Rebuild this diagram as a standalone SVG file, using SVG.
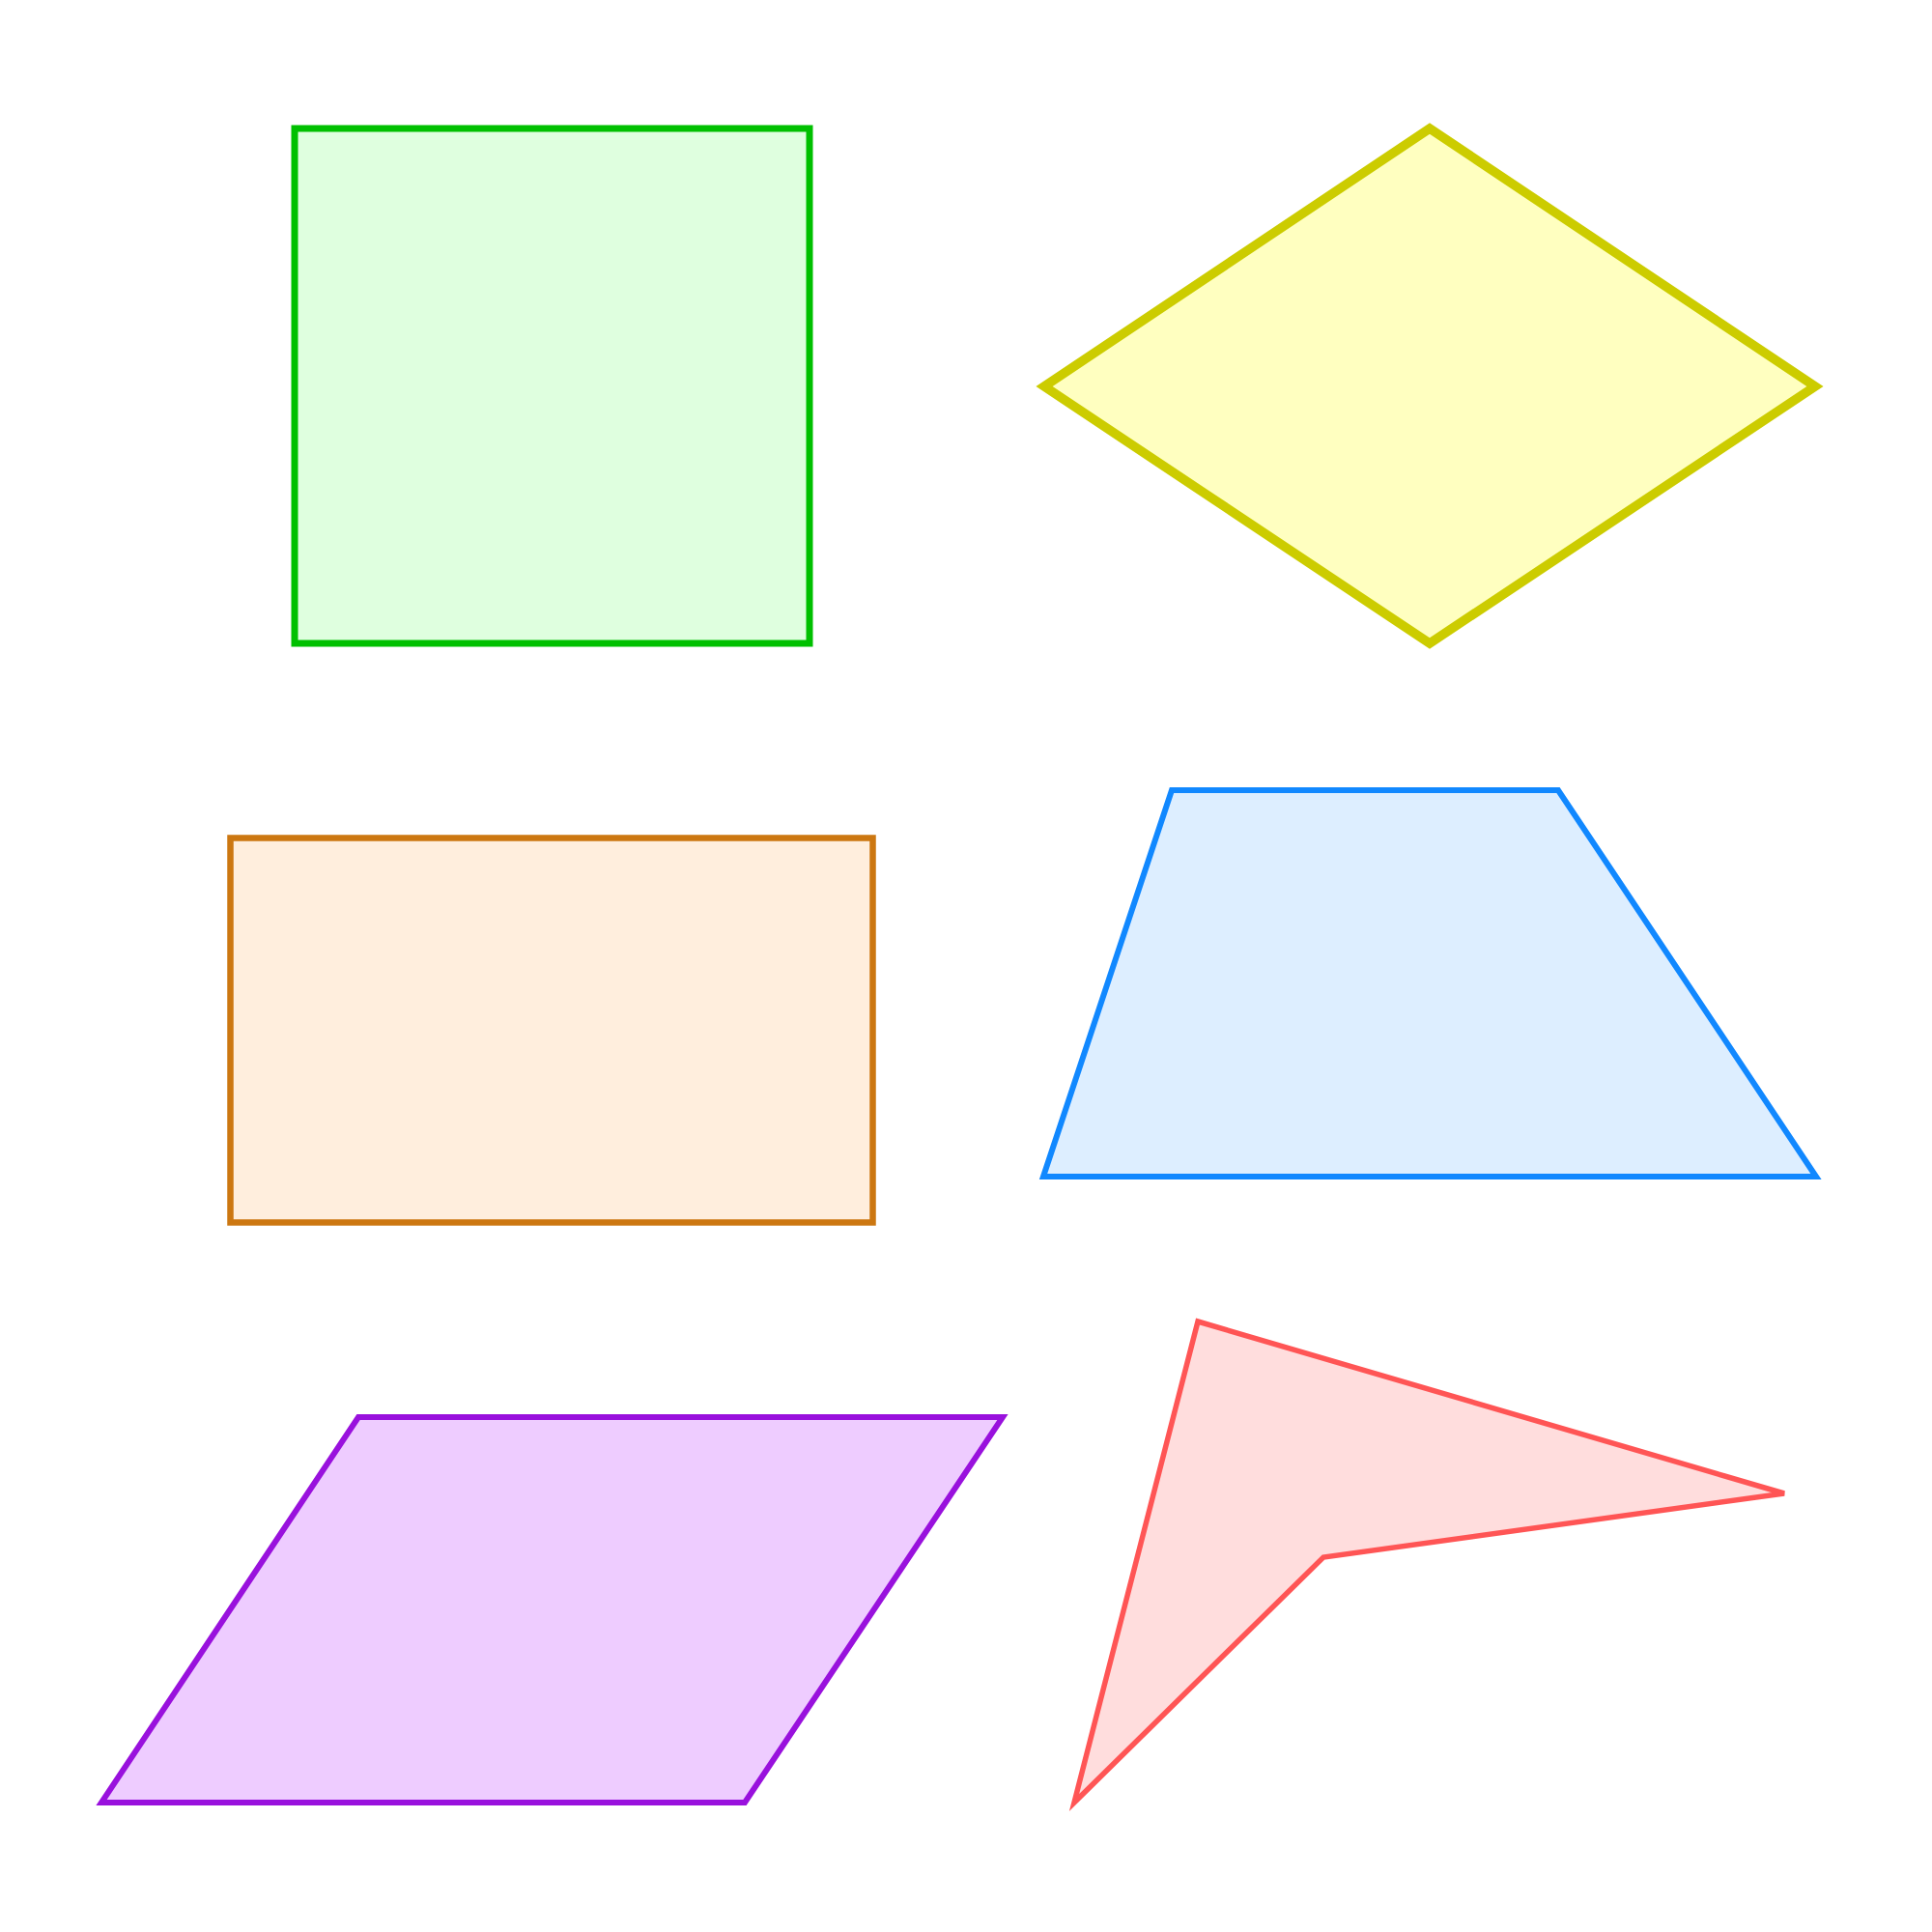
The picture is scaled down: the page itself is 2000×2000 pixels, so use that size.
<svg xmlns="http://www.w3.org/2000/svg" width="2000" height="2000" viewBox="0 0 2000 2000">
<style>
.sq{fill:#DFFFDF;stroke:#00C000;stroke-width:7}
.dm{fill:#FFFFC0;stroke:#CCCC00;stroke-width:9.5}
.rc{fill:#FFEEDD;stroke:#CC7711;stroke-width:6.5}
.tr{fill:#DDEEFF;stroke:#1188FF;stroke-width:6}
.pg{fill:#EECCFF;stroke:#9911DD;stroke-width:6}
.ar{fill:#FFDDDD;stroke:#FF5555;stroke-width:5.5}
</style>
<rect width="2000" height="2000" fill="#FFFFFF"/>
<g id="square"><rect class="sq" x="305" y="133" width="533" height="533"/></g>
<g id="diamond"><polygon class="dm" points="1081,400 1480,133 1879,400 1480,666"/></g>
<g id="rectangle"><rect class="rc" x="238.5" y="867.5" width="665" height="398"/></g>
<g id="trapezoid"><polygon class="tr" points="1213,818 1613,818 1880,1218 1080,1218"/></g>
<g id="parallelogram"><polygon class="pg" points="371,1467 1038,1467 771,1866 105,1866"/></g>
<g id="arrowhead"><polygon class="ar" points="1240,1368 1847,1546 1370,1612 1112,1866"/></g>
<g id="connectors"/>
</svg>
